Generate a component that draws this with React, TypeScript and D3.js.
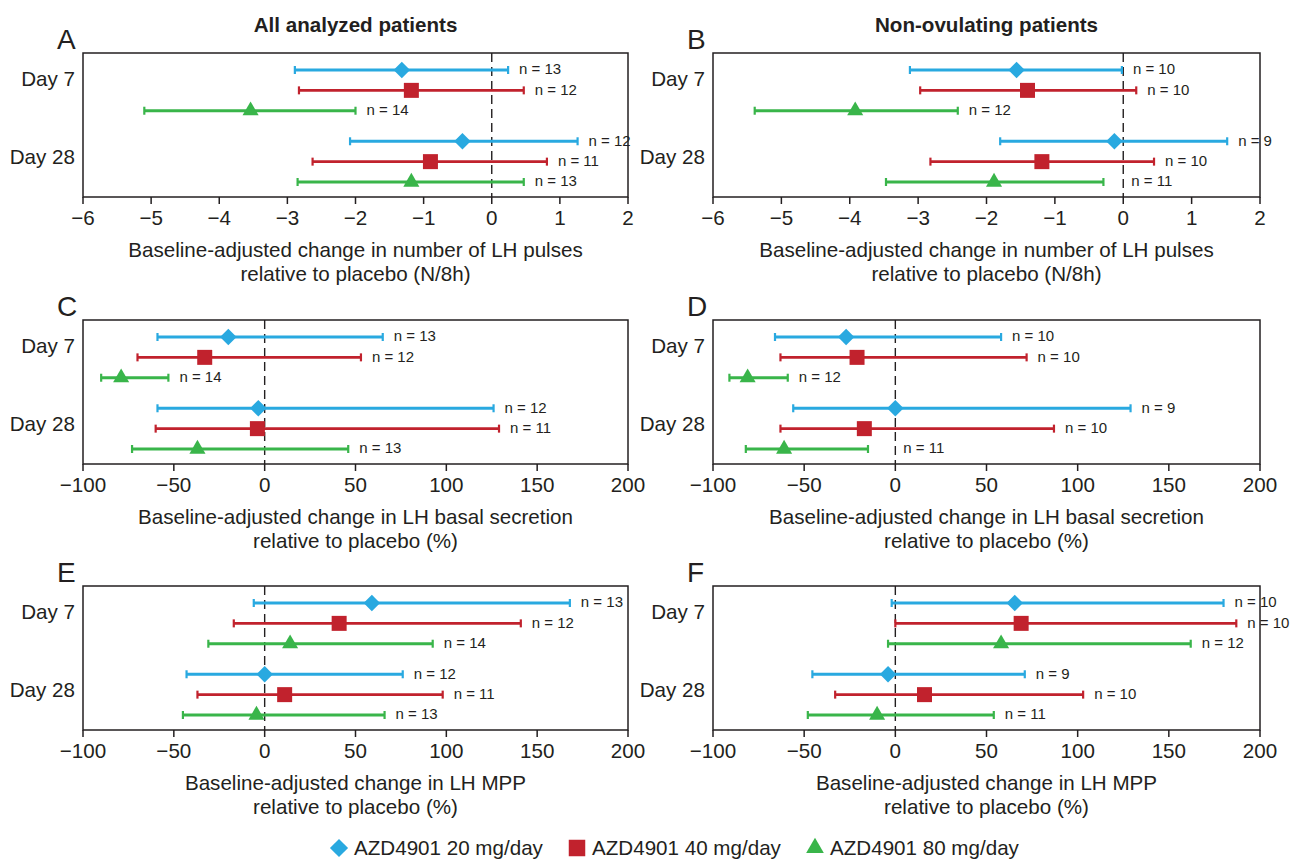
import React from 'react';
import * as d3 from 'd3';

// rows: Day 7 (20, 40, 80 mg), Day 28 (20, 40, 80 mg)
const days = ['Day 7', 'Day 28'];
const doses = ['AZD4901 20 mg/day', 'AZD4901 40 mg/day', 'AZD4901 80 mg/day'];
const colors = ['#29a9e0', '#c1222d', '#39b54a'];
const columnTitles = ['All analyzed patients', 'Non-ovulating patients'];

const pulsesTicks = [-6, -5, -4, -3, -2, -1, 0, 1, 2];
const pctTicks = [-100, -50, 0, 50, 100, 150, 200];

const aMean = [-1.32, -1.18, -3.54, -0.43, -0.9, -1.18];
const aLo = [-2.89, -2.83, -5.1, -2.08, -2.63, -2.85];
const aHi = [0.24, 0.47, -2.0, 1.26, 0.81, 0.47];
const aN = [13, 12, 14, 12, 11, 13];

const bMean = [-1.56, -1.4, -3.92, -0.13, -1.19, -1.89];
const bLo = [-3.12, -2.97, -5.39, -1.8, -2.82, -3.47];
const bHi = [-0.02, 0.19, -2.42, 1.52, 0.45, -0.29];
const bN = [10, 10, 12, 9, 10, 11];

const cMean = [-20, -33, -79, -3.5, -4, -37];
const cLo = [-59, -70, -90, -59, -60, -73];
const cHi = [65, 53, -53, 126, 129, 46];
const cN = [13, 12, 14, 12, 11, 13];

const dMean = [-27, -21, -81, 0, -17, -61];
const dLo = [-66, -63, -91, -56, -63, -82];
const dHi = [58, 72, -59, 129, 87, -15];
const dN = [10, 10, 12, 9, 10, 11];

const eMean = [59, 41, 14, 0, 11, -4.5];
const eLo = [-6, -17, -31, -43, -37, -45];
const eHi = [168, 141, 92.5, 76, 98, 66];
const eN = [13, 12, 14, 12, 11, 13];

const fMean = [65.5, 69, 58, -4, 16, -10];
const fLo = [-2, 0, -4, -45.5, -33, -48];
const fHi = [180, 187, 162, 71, 103, 54];
const fN = [10, 10, 12, 9, 10, 11];

const pulsesTitle = ['Baseline-adjusted change in number of LH pulses', 'relative to placebo (N/8h)'];
const basalTitle = ['Baseline-adjusted change in LH basal secretion', 'relative to placebo (%)'];
const mppTitle = ['Baseline-adjusted change in LH MPP', 'relative to placebo (%)'];

const panels = [
  { letter: 'A', col: 0, row: 0, mean: aMean, lo: aLo, hi: aHi, n: aN, dom: [-6, 2], ticks: pulsesTicks, title: pulsesTitle },
  { letter: 'B', col: 1, row: 0, mean: bMean, lo: bLo, hi: bHi, n: bN, dom: [-6, 2], ticks: pulsesTicks, title: pulsesTitle },
  { letter: 'C', col: 0, row: 1, mean: cMean, lo: cLo, hi: cHi, n: cN, dom: [-100, 200], ticks: pctTicks, title: basalTitle },
  { letter: 'D', col: 1, row: 1, mean: dMean, lo: dLo, hi: dHi, n: dN, dom: [-100, 200], ticks: pctTicks, title: basalTitle },
  { letter: 'E', col: 0, row: 2, mean: eMean, lo: eLo, hi: eHi, n: eN, dom: [-100, 200], ticks: pctTicks, title: mppTitle },
  { letter: 'F', col: 1, row: 2, mean: fMean, lo: fLo, hi: fHi, n: fN, dom: [-100, 200], ticks: pctTicks, title: mppTitle },
];

const cols = [{ x0: 83, x1: 628 }, { x0: 713, x1: 1260 }];
const rowsLayout = [{ top: 53, bottom: 197 }, { top: 320, bottom: 464 }, { top: 586, bottom: 730 }];
const slots = [0, 1, 2, 3.5, 4.5, 5.5];

const FONT = '"Liberation Sans", Arial, Helvetica, sans-serif';
const INK = '#231f20';
const FS = 20.6;
const fmt = d3.format('');

const symbols = [
  d3.symbol(d3.symbolSquare, 136)(),
  d3.symbol(d3.symbolSquare, 225)(),
  d3.symbol(d3.symbolTriangle, 112)(),
];
const rot = [45, 0, 0];

function Marker({ i, x, y, k = 1 }) {
  return (
    <path d={symbols[i] as string} fill={colors[i]}
      transform={`translate(${x},${y}) rotate(${rot[i]}) scale(${k})`} />
  );
}

function Panel({ p }) {
  const { x0, x1 } = cols[p.col];
  const { top, bottom } = rowsLayout[p.row];
  const x = d3.scaleLinear().domain(p.dom).range([x0, x1]);
  const y = d3.scaleLinear().domain([0, 5.5]).range([top + 17, top + 129]);
  const zx = x(0);
  return (
    <g>
      <text x={x0 - 26} y={top - 4} fontSize={28} fill={INK}>{p.letter}</text>
      <line x1={zx} x2={zx} y1={top} y2={bottom} stroke={INK} strokeWidth={1.4} strokeDasharray="9,5" />
      {p.mean.map((m, i) => {
        const c = i % 3;
        const yy = y(slots[i]);
        // keep the n label clear of the dashed zero line
        let lx = x(p.hi[i]) + 11;
        if (lx < zx + 8 && lx + 45 > zx) lx = zx + 8;
        return (
          <g key={i}>
            <line x1={x(p.lo[i])} x2={x(p.hi[i])} y1={yy} y2={yy} stroke={colors[c]} strokeWidth={2.9} />
            <line x1={x(p.lo[i])} x2={x(p.lo[i])} y1={yy - 4} y2={yy + 4} stroke={colors[c]} strokeWidth={2.2} />
            <line x1={x(p.hi[i])} x2={x(p.hi[i])} y1={yy - 4} y2={yy + 4} stroke={colors[c]} strokeWidth={2.2} />
            <Marker i={c} x={x(m)} y={yy} />
            <text x={lx} y={yy - 1} dy="0.35em" fontSize={15} fill={INK}>{`n = ${p.n[i]}`}</text>
          </g>
        );
      })}
      <rect x={x0} y={top} width={x1 - x0} height={bottom - top} fill="none" stroke={INK} strokeWidth={1.5} />
      {p.ticks.map(t => (
        <g key={t}>
          <line x1={x(t)} x2={x(t)} y1={bottom} y2={bottom + 7} stroke={INK} strokeWidth={1.5} />
          <text x={x(t)} y={bottom + 28} textAnchor="middle" fontSize={FS} fill={INK}>{fmt(t)}</text>
        </g>
      ))}
      <text x={x0 - 8} y={top + 26} dy="0.35em" textAnchor="end" fontSize={FS} fill={INK}>{days[0]}</text>
      <text x={x0 - 8} y={top + 104} dy="0.35em" textAnchor="end" fontSize={FS} fill={INK}>{days[1]}</text>
      <text x={(x0 + x1) / 2} y={bottom + 60} textAnchor="middle" fontSize={FS} fill={INK}>{p.title[0]}</text>
      <text x={(x0 + x1) / 2} y={bottom + 84} textAnchor="middle" fontSize={FS} fill={INK}>{p.title[1]}</text>
    </g>
  );
}

const legendX = [339, 577, 815];

export default function App() {
  return (
    <svg width={1295} height={859} style={{ position: 'absolute', left: 0, top: 0, background: '#fff' }}
      fontFamily={FONT}>
      {columnTitles.map((t, i) => (
        <text key={t} x={(cols[i].x0 + cols[i].x1) / 2} y={32} textAnchor="middle" fontSize={FS}
          fontWeight="bold" fill={INK}>{t}</text>
      ))}
      {panels.map(p => <Panel key={p.letter} p={p} />)}
      {doses.map((d, i) => (
        <g key={d}>
          <Marker i={i} x={legendX[i]} y={848} k={1.1} />
          <text x={legendX[i] + 15} y={848} dy="0.35em" fontSize={FS} fill={INK}>{d}</text>
        </g>
      ))}
    </svg>
  );
}
